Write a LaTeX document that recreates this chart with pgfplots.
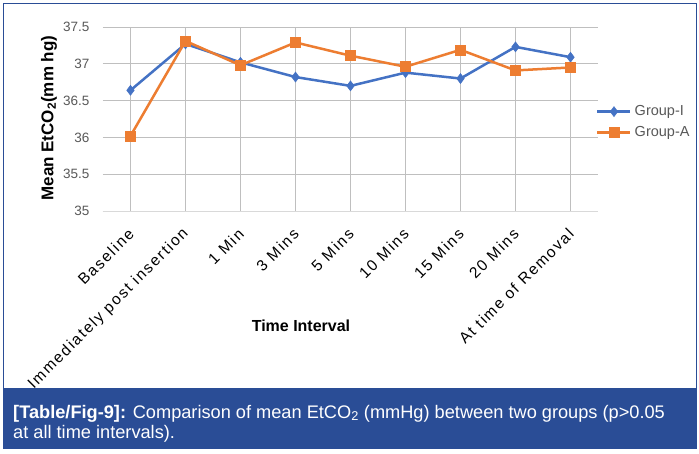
\documentclass[border=0pt]{standalone}
\usepackage{pgfplots}
\pgfplotsset{compat=1.18}
\usepackage{fontspec}
\setmainfont{Liberation Sans}
\newfontfamily\ticklab[LetterSpace=11]{Liberation Sans}
\definecolor{gI}{HTML}{4472C4}
\definecolor{gA}{HTML}{ED7D31}
\definecolor{band}{RGB}{42,77,150}
\definecolor{grid}{HTML}{D9D9D9}
\definecolor{txt}{HTML}{595959}

\begin{document}
\begin{tikzpicture}
\useasboundingbox (0,0) rectangle (699pt,453pt);
\fill[white] (0,0) rectangle (699pt,453pt);
% caption band and frame
\fill[band] (3pt,4pt) rectangle (697pt,65pt);
\draw[band, line width=1pt] (3.5pt,65pt) -- (3.5pt,449pt) -- (696.5pt,449pt) -- (696.5pt,65pt);
\node[anchor=base west, text=white, inner sep=0pt, font=\fontsize{18.2}{21}\selectfont]
  at (13pt,35pt) {\textbf{[Table/Fig-9]:} Comparison of mean EtCO\textsubscript{2} (mmHg) between two groups (p>0.05};
\node[anchor=base west, text=white, inner sep=0pt, font=\fontsize{18.2}{21}\selectfont]
  at (13pt,14.5pt) {at all time intervals).};

\begin{axis}[
  at={(103pt,242pt)}, anchor=south west,
  width=495pt, height=184pt, scale only axis,
  xmin=-0.5, xmax=8.5, ymin=35, ymax=37.5,
  axis line style={draw=none},
  axis x line*=bottom,
  xtick=data,
  xticklabels={Baseline,Immediately post insertion,1 Min,3 Mins,5 Mins,10 Mins,15 Mins,20 Mins,At time of Removal},
  ytick={35,35.5,36,36.5,37,37.5},
  yticklabels={35,35.5,36,36.5,37,37.5},
  major tick length=0pt,
  ymajorgrids, grid style={grid, line width=0.8pt},
  /pgf/number format/assume math mode=true,
  yticklabel style={font=\fontsize{13.5}{16}\selectfont, text=txt, xshift=-10pt},
  xticklabel style={font=\ticklab\fontsize{15.5}{18}\selectfont, text=black,
    xshift=3pt, yshift=-18pt, rotate=45, anchor=east},
  ylabel={\textbf{Mean EtCO\textsubscript{2}(mm hg)}},
  ylabel style={at={(axis description cs:-0.109,0.505)}, anchor=center,
    font=\fontsize{17}{19}\selectfont},
  xlabel={\textbf{Time Interval}},
  xlabel style={at={(axis description cs:0.4,-0.625)}, anchor=center,
    font=\fontsize{16}{18}\selectfont},
  legend style={draw=none, fill=none, at={(axis description cs:0.99,0.484)}, anchor=west,
    font=\fontsize{14.5}{17}\selectfont, text=txt, row sep=9pt,
    nodes={inner sep=0pt}},
  legend cell align=left,
  legend image code/.code={\draw[mark repeat=2,mark phase=2,#1] plot coordinates {(0pt,0pt) (16.5pt,0pt) (33pt,0pt)};},
  /tikz/every odd column/.append style={column sep=3pt},
]
\addplot[gI, line width=2.5pt, mark=diamond*, mark size=5pt, mark options={solid, line width=0.5pt}]
  coordinates {(0,36.64) (1,37.27) (2,37.02) (3,36.82) (4,36.70) (5,36.88) (6,36.80) (7,37.23) (8,37.09)};
\addlegendentry{Group-I}
\addplot[gA, line width=2.5pt, mark=square*, mark size=5pt, mark options={solid, line width=0.5pt}]
  coordinates {(0,36.02) (1,37.31) (2,36.98) (3,37.29) (4,37.11) (5,36.96) (6,37.19) (7,36.91) (8,36.95)};
\addlegendentry{Group-A}
\draw[grid, line width=0.8pt] (axis cs:-0.5,35) -- (axis cs:8.5,35);
\end{axis}
\end{tikzpicture}
\end{document}
